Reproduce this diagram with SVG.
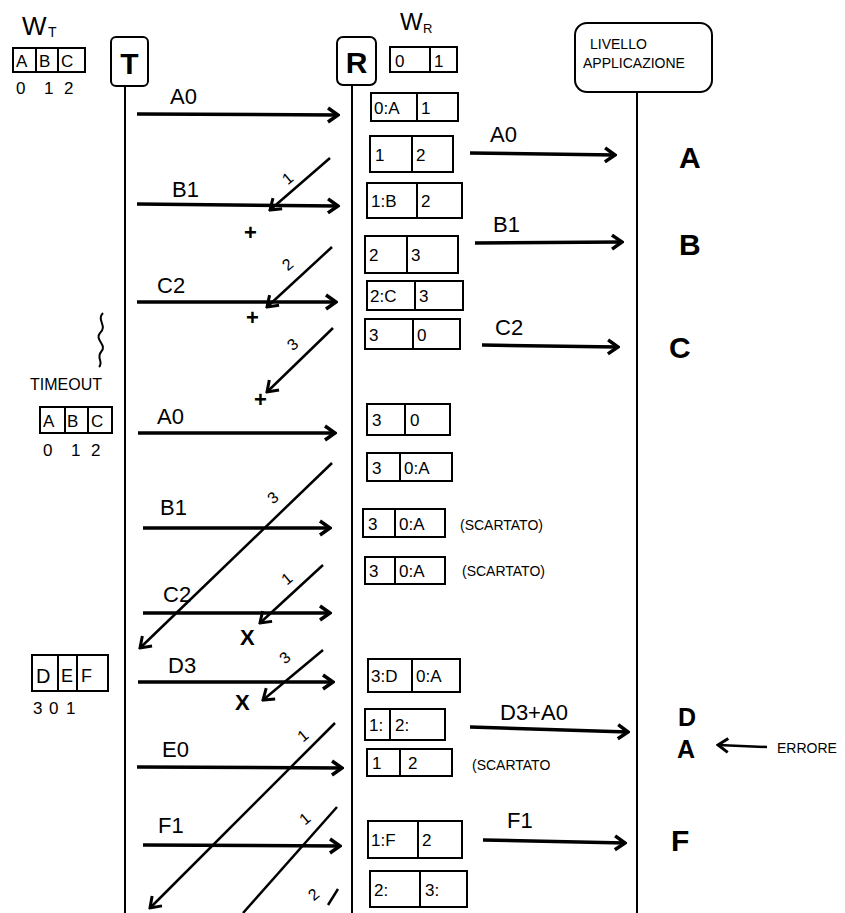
<svg xmlns="http://www.w3.org/2000/svg" width="845" height="913" viewBox="0 0 845 913">
<style>
text{font-family:"Liberation Sans","DejaVu Sans",sans-serif;fill:#000}
.life{stroke:#000;stroke-width:2;fill:none}
.box{fill:#fff;stroke:#000;stroke-width:2}
.win{fill:none;stroke:#000;stroke-width:2}
.msg{stroke:#000;stroke-width:3.5;fill:none;marker-end:url(#arr)}
.ack{stroke:#000;stroke-width:2.5;fill:none}
.acka{stroke:#000;stroke-width:2.5;fill:none;marker-end:url(#arr2)}
.lbl{font-size:22px}
.wt{font-size:17px}
.al{font-size:17px}
.dg{font-size:16px}
.big{font-size:30px;font-weight:bold}
.x{font-size:22px;font-weight:bold}
.sc{font-size:14px}
</style>
<defs>
<marker id="arr" viewBox="0 0 14 18" refX="12" refY="9" markerWidth="14" markerHeight="18" markerUnits="userSpaceOnUse" orient="auto"><path d="M2,2 L12,9 L2,16" fill="none" stroke="#000" stroke-width="3.5"/></marker>
<marker id="arr2" viewBox="0 0 14 18" refX="12" refY="9" markerWidth="14" markerHeight="18" markerUnits="userSpaceOnUse" orient="auto"><path d="M2,2 L12,9 L2,16" fill="none" stroke="#000" stroke-width="3"/></marker>
</defs>

<!-- headers -->
<g id="wt-label"><text x="22" y="35" font-size="26">W</text><text x="48" y="37" font-size="14">T</text></g>
<g id="wr-label"><text x="400" y="30" font-size="24">W</text><text x="423" y="33" font-size="13">R</text></g>

<g id="node-T">
<rect class="box" x="111" y="37" width="37" height="49" rx="5"/>
<text x="129.5" y="74" class="big" text-anchor="middle">T</text>
<line class="life" x1="125" y1="86" x2="125" y2="913"/>
</g>
<g id="node-R">
<rect class="box" x="337" y="37" width="39" height="48" rx="6"/>
<text x="356.5" y="73" class="big" text-anchor="middle">R</text>
<line class="life" x1="352" y1="85" x2="352" y2="913"/>
</g>
<g id="node-APP">
<rect class="box" x="575" y="23" width="137" height="69" rx="12"/>
<text x="590" y="49" font-size="14">LIVELLO</text>
<text x="583" y="68" font-size="14">APPLICAZIONE</text>
<line class="life" x1="637" y1="92" x2="637" y2="913"/>
</g>

<!-- sender windows -->
<g id="wt-window-1">
<rect class="win" x="13" y="48" width="72" height="24"/>
<line class="win" x1="36" y1="48" x2="36" y2="72"/><line class="win" x1="58" y1="48" x2="58" y2="72"/>
<text class="wt" x="16" y="67">A</text><text class="wt" x="39" y="67">B</text><text class="wt" x="61" y="67">C</text>
<text class="wt" x="16" y="94">0</text><text class="wt" x="44" y="94">1</text><text class="wt" x="64" y="94">2</text>
</g>
<g id="timeout">
<path d="M103,313 C96,320 108,326 100,333 C94,340 108,345 101,352 C96,358 104,362 99,367" fill="none" stroke="#000" stroke-width="2"/>
<text x="30" y="390" font-size="16">TIMEOUT</text>
</g>
<g id="wt-window-2">
<rect class="win" x="40" y="407" width="72" height="26"/>
<line class="win" x1="65" y1="407" x2="65" y2="433"/><line class="win" x1="88" y1="407" x2="88" y2="433"/>
<text class="wt" x="43" y="427">A</text><text class="wt" x="67" y="427">B</text><text class="wt" x="91" y="427">C</text>
<text class="wt" x="43" y="456">0</text><text class="wt" x="71" y="456">1</text><text class="wt" x="91" y="456">2</text>
</g>
<g id="wt-window-3">
<rect class="win" x="32" y="655" width="76" height="36"/>
<line class="win" x1="58" y1="655" x2="58" y2="691"/><line class="win" x1="77" y1="655" x2="77" y2="691"/>
<text x="36" y="683" font-size="20">D</text><text x="61" y="682" font-size="18">E</text><text x="81" y="682" font-size="18">F</text>
<text class="wt" x="33" y="714">3</text><text class="wt" x="49" y="714">0</text><text class="wt" x="66" y="714">1</text>
</g>

<!-- receiver windows -->
<g id="wr-0"><rect class="win" x="390" y="47" width="67" height="25"/><line class="win" x1="430" y1="47" x2="430" y2="72"/><text class="al" x="395" y="67">0</text><text class="al" x="434" y="67">1</text></g>
<g id="wr-1"><rect class="win" x="371" y="93" width="87" height="28"/><line class="win" x1="417" y1="93" x2="417" y2="121"/><text class="al" x="374" y="114">0:A</text><text class="al" x="421" y="114">1</text></g>
<g id="wr-2"><rect class="win" x="370" y="136" width="83" height="36"/><line class="win" x1="412" y1="136" x2="412" y2="172"/><text class="al" x="375" y="161">1</text><text class="al" x="416" y="161">2</text></g>
<g id="wr-3"><rect class="win" x="367" y="183" width="95" height="35"/><line class="win" x1="417" y1="183" x2="417" y2="218"/><text class="al" x="371" y="207">1:B</text><text class="al" x="421" y="207">2</text></g>
<g id="wr-4"><rect class="win" x="365" y="236" width="93" height="37"/><line class="win" x1="407" y1="236" x2="407" y2="273"/><text class="al" x="369" y="261">2</text><text class="al" x="411" y="261">3</text></g>
<g id="wr-5"><rect class="win" x="367" y="281" width="96" height="29"/><line class="win" x1="415" y1="281" x2="415" y2="310"/><text class="al" x="370" y="302">2:C</text><text class="al" x="419" y="302">3</text></g>
<g id="wr-6"><rect class="win" x="365" y="319" width="95" height="30"/><line class="win" x1="413" y1="319" x2="413" y2="349"/><text class="al" x="369" y="341">3</text><text class="al" x="417" y="341">0</text></g>
<g id="wr-7"><rect class="win" x="367" y="404" width="83" height="31"/><line class="win" x1="405" y1="404" x2="405" y2="435"/><text class="al" x="372" y="426">3</text><text class="al" x="410" y="426">0</text></g>
<g id="wr-8"><rect class="win" x="367" y="453" width="85" height="28"/><line class="win" x1="400" y1="453" x2="400" y2="481"/><text class="al" x="372" y="474">3</text><text class="al" x="404" y="474">0:A</text></g>
<g id="wr-9"><rect class="win" x="363" y="509" width="82" height="28"/><line class="win" x1="395" y1="509" x2="395" y2="537"/><text class="al" x="368" y="530">3</text><text class="al" x="399" y="530">0:A</text><text class="sc" x="460" y="530">(SCARTATO)</text></g>
<g id="wr-10"><rect class="win" x="365" y="557" width="80" height="27"/><line class="win" x1="395" y1="557" x2="395" y2="584"/><text class="al" x="369" y="577">3</text><text class="al" x="399" y="577">0:A</text><text class="sc" x="462" y="576">(SCARTATO)</text></g>
<g id="wr-11"><rect class="win" x="368" y="659" width="92" height="33"/><line class="win" x1="412" y1="659" x2="412" y2="692"/><text class="al" x="371" y="682">3:D</text><text class="al" x="416" y="682">0:A</text></g>
<g id="wr-12"><rect class="win" x="365" y="709" width="80" height="31"/><line class="win" x1="390" y1="709" x2="390" y2="740"/><text class="al" x="369" y="731">1:</text><text class="al" x="395" y="731">2:</text></g>
<g id="wr-13"><rect class="win" x="367" y="749" width="85" height="27"/><line class="win" x1="400" y1="749" x2="400" y2="776"/><text class="al" x="372" y="769">1</text><text class="al" x="408" y="769">2</text><text class="sc" x="472" y="770">(SCARTATO</text></g>
<g id="wr-14"><rect class="win" x="368" y="821" width="94" height="37"/><line class="win" x1="418" y1="821" x2="418" y2="858"/><text class="al" x="371" y="846">1:F</text><text class="al" x="422" y="846">2</text></g>
<g id="wr-15"><rect class="win" x="370" y="871" width="97" height="36"/><line class="win" x1="420" y1="871" x2="420" y2="907"/><text class="al" x="374" y="896">2:</text><text class="al" x="425" y="896">3:</text></g>

<!-- delivered letters -->
<g id="app-letters">
<text class="big" x="679" y="168">A</text>
<text class="big" x="679" y="255">B</text>
<text class="big" x="669" y="358">C</text>
<text x="678" y="726" font-size="25" font-weight="bold">D</text>
<text x="677" y="758" font-size="25" font-weight="bold">A</text>
<text class="big" x="671" y="851">F</text>
<text x="777" y="753" font-size="14">ERRORE</text>
</g>

<g id="connectors">
<!-- data messages T to R -->
<line class="msg" x1="137" y1="114" x2="338" y2="115"/>
<line class="msg" x1="137" y1="204" x2="338" y2="206"/>
<line class="msg" x1="137" y1="302" x2="336" y2="302"/>
<line class="msg" x1="138" y1="433" x2="335" y2="433"/>
<line class="msg" x1="143" y1="528" x2="330" y2="528"/>
<line class="msg" x1="143" y1="613" x2="330" y2="613"/>
<line class="msg" x1="138" y1="682" x2="333" y2="682"/>
<line class="msg" x1="137" y1="767" x2="342" y2="768"/>
<line class="msg" x1="143" y1="845" x2="340" y2="846"/>
<!-- acks R to T -->
<line class="acka" x1="330" y1="158" x2="270" y2="210"/>
<line class="acka" x1="332" y1="247" x2="267" y2="307"/>
<line class="acka" x1="333" y1="328" x2="267" y2="392"/>
<line class="acka" x1="332" y1="463" x2="140" y2="648"/>
<line class="acka" x1="323" y1="565" x2="260" y2="623"/>
<line class="acka" x1="323" y1="650" x2="263" y2="700"/>
<line class="acka" x1="335" y1="723" x2="150" y2="908"/>
<line class="ack" x1="337" y1="807" x2="243" y2="913"/>
<line class="ack" x1="338" y1="889" x2="328" y2="905"/>
<!-- deliveries R to app -->
<line class="msg" x1="470" y1="153" x2="615" y2="155"/>
<line class="msg" x1="475" y1="243" x2="622" y2="242"/>
<line class="msg" x1="482" y1="345" x2="618" y2="347"/>
<line class="msg" x1="470" y1="727" x2="628" y2="732"/>
<line class="msg" x1="483" y1="840" x2="625" y2="843"/>
<line class="acka" x1="767" y1="747" x2="718" y2="745"/>
</g>

<g id="connector-labels">
<text class="lbl" x="170" y="104">A0</text>
<text class="lbl" x="172" y="197">B1</text>
<text class="lbl" x="157" y="293">C2</text>
<text class="lbl" x="157" y="424">A0</text>
<text class="lbl" x="160" y="515">B1</text>
<text class="lbl" x="163" y="602">C2</text>
<text class="lbl" x="168" y="673">D3</text>
<text class="lbl" x="162" y="757">E0</text>
<text class="lbl" x="158" y="833">F1</text>
<text class="lbl" x="490" y="142">A0</text>
<text class="lbl" x="493" y="232">B1</text>
<text class="lbl" x="495" y="335">C2</text>
<text class="lbl" x="500" y="720">D3+A0</text>
<text class="lbl" x="507" y="828">F1</text>
<text class="dg" x="282" y="184" transform="rotate(-40 287 177)">1</text>
<text class="dg" x="282" y="270" transform="rotate(-40 287 263)">2</text>
<text class="dg" x="287" y="350" transform="rotate(-40 292 343)">3</text>
<text class="dg" x="268" y="503" transform="rotate(-40 273 497)">3</text>
<text class="dg" x="282" y="584" transform="rotate(-40 287 578)">1</text>
<text class="dg" x="280" y="663" transform="rotate(-40 285 657)">3</text>
<text class="dg" x="298" y="741" transform="rotate(-40 303 735)">1</text>
<text class="dg" x="300" y="824" transform="rotate(-40 305 818)">1</text>
<text class="dg" x="308" y="900" transform="rotate(-40 313 893)">2</text>
<text class="x" x="244" y="240">+</text>
<text class="x" x="246" y="325">+</text>
<text class="x" x="254" y="407">+</text>
<text class="x" x="240" y="645">X</text>
<text class="x" x="235" y="710">X</text>
</g>
</svg>
